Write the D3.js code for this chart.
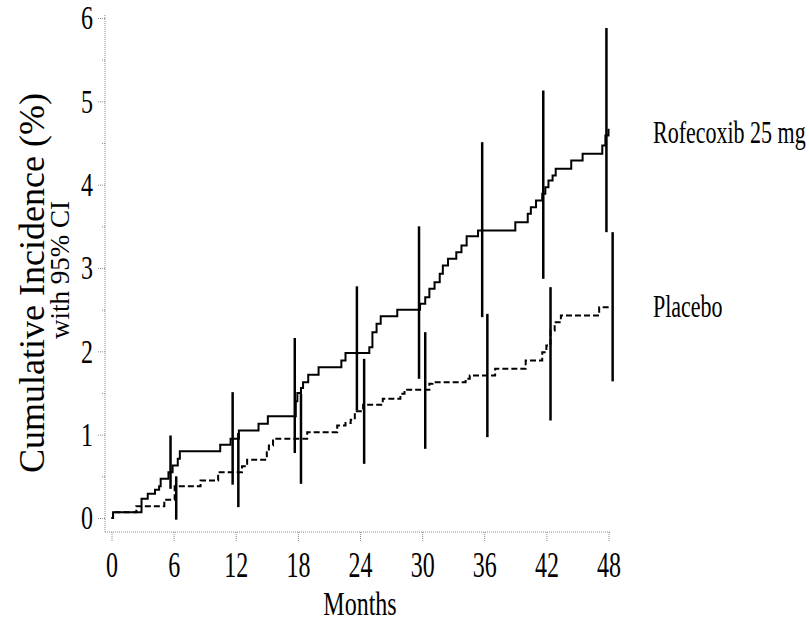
<!DOCTYPE html>
<html>
<head>
<meta charset="utf-8">
<script src="https://cdn.jsdelivr.net/npm/d3@7"></script>
<style>
  body { margin: 0; background: #fff; }
  text { font-family: "Liberation Serif", "Times New Roman", serif; fill: #000; }
</style>
</head>
<body>
<div id="app"></div>
<script>
const width = 809;
const height = 631;

// step curves (months, cumulative incidence %)
const rofMonths = [0, 0.15, 2.9, 3.5, 4.2, 4.6, 4.75, 5.5, 5.9, 6.4, 6.6, 10.5, 11.5, 12.3, 14.2, 15.1, 17.8, 17.95, 18.3, 18.5, 19.0, 20.0, 22.2, 22.6, 24.9, 25.2, 25.6, 26.0, 27.6, 29.8, 30.3, 30.7, 31.2, 31.7, 32.0, 32.5, 33.3, 33.8, 34.3, 35.4, 39.0, 40.2, 40.5, 41.0, 41.6, 41.9, 42.2, 42.6, 42.9, 44.4, 45.5, 47.4, 47.7, 48.0];
const rofValues = [0, 0.07, 0.23, 0.29, 0.34, 0.38, 0.47, 0.55, 0.63, 0.71, 0.80, 0.88, 0.95, 1.05, 1.13, 1.22, 1.40, 1.50, 1.56, 1.63, 1.72, 1.81, 1.89, 1.98, 2.05, 2.23, 2.33, 2.42, 2.50, 2.57, 2.65, 2.75, 2.83, 2.93, 3.03, 3.11, 3.19, 3.27, 3.38, 3.45, 3.55, 3.65, 3.73, 3.81, 3.89, 3.97, 4.05, 4.11, 4.19, 4.29, 4.37, 4.47, 4.59, 4.67];

const pboMonths = [0, 0.15, 2.4, 5.1, 6.1, 8.6, 10.3, 12.6, 13.1, 15.0, 15.2, 15.6, 18.9, 21.8, 22.6, 23.1, 23.5, 24.3, 26.2, 27.9, 28.3, 30.7, 31.0, 34.2, 34.6, 37.05, 40.0, 41.6, 42.0, 42.4, 42.8, 43.4, 47.1, 48.1];
const pboValues = [0, 0.07, 0.14, 0.22, 0.38, 0.45, 0.55, 0.62, 0.70, 0.79, 0.87, 0.95, 1.03, 1.11, 1.14, 1.18, 1.28, 1.36, 1.43, 1.49, 1.54, 1.61, 1.63, 1.67, 1.71, 1.79, 1.89, 1.99, 2.07, 2.25, 2.35, 2.43, 2.53, 2.53];

// 95% CI bars, drawn just left (rofecoxib) and right (placebo) of each 6-month mark
const ciMonthsRof = [5.7, 11.7, 17.7, 23.7, 29.7, 35.8, 41.7, 47.8];
const ciLowRof = [0.35, 0.40, 0.78, 1.29, 1.67, 2.41, 2.87, 3.43];
const ciHighRof = [0.99, 1.51, 2.16, 2.78, 3.50, 4.51, 5.13, 5.88];

const ciMonthsPbo = [6.25, 12.25, 18.3, 24.4, 30.3, 36.3, 42.4, 48.4];
const ciLowPbo = [-0.02, 0.13, 0.41, 0.65, 0.83, 0.97, 1.17, 1.64];
const ciHighPbo = [0.50, 1.02, 1.49, 1.91, 2.23, 2.45, 2.77, 3.43];

const xTicks = [0, 6, 12, 18, 24, 30, 36, 42, 48];
const yTicks = [0, 1, 2, 3, 4, 5, 6];
const yMinor = [0.5, 1.5, 2.5, 3.5, 4.5, 5.5];

const seriesNames = ["Rofecoxib 25 mg", "Placebo"];
const labelValues = [4.62, 2.53];

const svg = d3.select("#app")
  .append("svg")
  .attr("width", width)
  .attr("height", height);

const x = d3.scaleLinear().domain([0, 48]).range([111.5, 608.5]);
const y = d3.scaleLinear().domain([0, 6]).range([518, 18]);

const axisColor = "#8a8a8a";
const stretch = 1.5; // the printed text is tall and narrow

// x axis
const gx = svg.append("g").attr("transform", "translate(0,532)");
gx.call(d3.axisBottom(x).tickValues(xTicks).tickSize(10).tickSizeOuter(0));
gx.select(".domain").remove();
gx.append("line")
  .attr("x1", 105).attr("x2", 611)
  .attr("stroke", axisColor).attr("stroke-dasharray", "1,1");
gx.selectAll(".tick line").attr("stroke", axisColor).attr("stroke-dasharray", "1,1");
gx.selectAll(".tick text")
  .attr("y", 30).attr("dy", 0)
  .attr("font-size", 24)
  .attr("font-family", "Liberation Serif")
  .attr("fill", "#000")
  .attr("transform", `scale(1,${stretch})`);

// y axis
const gy = svg.append("g").attr("transform", "translate(105,0)");
gy.call(d3.axisLeft(y).tickValues(yTicks).tickFormat(d3.format("d")).tickSize(7).tickPadding(5).tickSizeOuter(0));
gy.select(".domain").remove();
gy.append("line")
  .attr("y1", 15).attr("y2", 532)
  .attr("stroke", axisColor).attr("stroke-dasharray", "1,1");
gy.selectAll(".tick line").attr("stroke", axisColor).attr("stroke-dasharray", "1,1");
gy.selectAll(".tick text")
  .attr("font-size", 24)
  .attr("font-family", "Liberation Serif")
  .attr("fill", "#000")
  .attr("transform", "scale(1,1.4)");

const gyMinor = svg.append("g").attr("transform", "translate(105,0)");
gyMinor.call(d3.axisLeft(y).tickValues(yMinor).tickSize(4).tickFormat(""));
gyMinor.select(".domain").remove();
gyMinor.selectAll(".tick line").attr("stroke", axisColor).attr("stroke-dasharray", "1,1");

// step lines
const step = d3.line()
  .x(d => x(d[0]))
  .y(d => y(d[1]))
  .curve(d3.curveStepAfter);

svg.append("path")
  .datum(rofMonths.map((m, i) => [m, rofValues[i]]))
  .attr("d", step)
  .attr("fill", "none")
  .attr("stroke", "#000")
  .attr("stroke-width", 2);

svg.append("path")
  .datum(pboMonths.map((m, i) => [m, pboValues[i]]))
  .attr("d", step)
  .attr("fill", "none")
  .attr("stroke", "#000")
  .attr("stroke-width", 2)
  .attr("stroke-dasharray", "6,3");

// confidence interval bars
svg.append("g").selectAll("line")
  .data(ciMonthsRof)
  .join("line")
  .attr("x1", d => x(d)).attr("x2", d => x(d))
  .attr("y1", (d, i) => y(ciLowRof[i]))
  .attr("y2", (d, i) => y(ciHighRof[i]))
  .attr("stroke", "#000")
  .attr("stroke-width", 2.5);

svg.append("g").selectAll("line")
  .data(ciMonthsPbo)
  .join("line")
  .attr("x1", d => x(d)).attr("x2", d => x(d))
  .attr("y1", (d, i) => y(ciLowPbo[i]))
  .attr("y2", (d, i) => y(ciHighPbo[i]))
  .attr("stroke", "#000")
  .attr("stroke-width", 2.5);

// series labels at the right
svg.append("g").selectAll("text")
  .data(seriesNames)
  .join("text")
  .attr("transform", (d, i) => `translate(653,${y(labelValues[i]) + 10}) scale(1,1.4)`)
  .attr("font-size", 22)
  .text(d => d);

// axis titles
svg.append("text")
  .attr("transform", "translate(360,615) scale(1,1.4)")
  .attr("text-anchor", "middle")
  .attr("font-size", 24)
  .text("Months");

svg.append("text")
  .attr("transform", "translate(44,283) rotate(-90)")
  .attr("text-anchor", "middle")
  .attr("font-size", 36)
  .text("Cumulative Incidence (%)");

svg.append("text")
  .attr("transform", "translate(69,270) rotate(-90)")
  .attr("text-anchor", "middle")
  .attr("font-size", 27)
  .text("with 95% CI");
</script>
</body>
</html>
